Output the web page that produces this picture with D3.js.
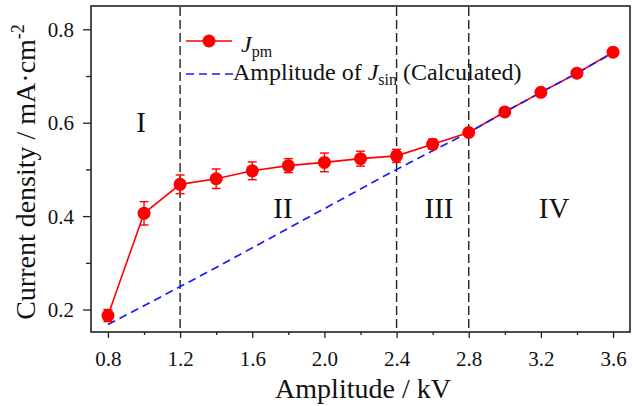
<!DOCTYPE html>
<html>
<head>
<meta charset="utf-8">
<script src="https://cdn.jsdelivr.net/npm/d3@7"></script>
<style>
  body { margin: 0; background: #fff; }
  svg text { font-family: "Liberation Serif", "Times New Roman", serif; fill: #111; }
</style>
</head>
<body>
<div id="chart"></div>
<script>
// data
var amplitude = [0.8, 1.0, 1.2, 1.4, 1.6, 1.8, 2.0, 2.2, 2.4, 2.6, 2.8, 3.0, 3.2, 3.4, 3.6];
var jpm = [0.187, 0.406, 0.468, 0.480, 0.497, 0.508, 0.515, 0.523, 0.529, 0.554, 0.579, 0.623, 0.665, 0.706, 0.751];
var jpmErr = [0.013, 0.025, 0.02, 0.021, 0.019, 0.015, 0.02, 0.016, 0.014, 0.011, 0.005, 0.004, 0.004, 0.004, 0.004];
var jsin = [0.168, 0.208, 0.249, 0.290, 0.332, 0.374, 0.416, 0.458, 0.500, 0.540, 0.579, 0.623, 0.665, 0.706, 0.750];
var xTicks = [0.8, 1.2, 1.6, 2.0, 2.4, 2.8, 3.2, 3.6];
var xMinor = [1.0, 1.4, 1.8, 2.2, 2.6, 3.0, 3.4];
var yTicks = [0.2, 0.4, 0.6, 0.8];
var yMinor = [0.3, 0.5, 0.7];
var dividers = [1.2, 2.4, 2.8];
var regionLabels = ["I", "II", "III", "IV"];
var regionX = [0.983, 1.77, 2.635, 3.273];
var regionY = [0.58, 0.396, 0.396, 0.396];

var FONT = "'Liberation Serif', 'Times New Roman', serif";

var width = 632, height = 406;
var margin = {top: 6, right: 2, bottom: 74, left: 91};
var chartWidth = width - margin.left - margin.right;
var chartHeight = height - margin.top - margin.bottom;

var svg = d3.select("#chart").append("svg")
    .attr("width", width)
    .attr("height", height);

var chartGroup = svg.append("g")
    .attr("transform", `translate(${margin.left}, ${margin.top})`);

var xScale = d3.scaleLinear().domain([0.706, 3.694]).range([0, chartWidth]);
var yScale = d3.scaleLinear().domain([0.1518, 0.8499]).range([chartHeight, 0]);

// axes, ticks pointing out
var xAxis = d3.axisBottom(xScale).tickValues(xTicks).tickFormat(d3.format(".1f")).tickSize(6);
var xAxisMinor = d3.axisBottom(xScale).tickValues(xMinor).tickFormat("").tickSize(3);
var yAxis = d3.axisLeft(yScale).tickValues(yTicks).tickFormat(d3.format(".1f")).tickSize(8).tickPadding(9);
var yAxisMinor = d3.axisLeft(yScale).tickValues(yMinor).tickFormat("").tickSize(5);

[[xAxis, true], [xAxisMinor, true], [yAxis, false], [yAxisMinor, false]].forEach(function (a) {
    var g = chartGroup.append("g")
        .attr("transform", a[1] ? `translate(0, ${chartHeight})` : null)
        .call(a[0]);
    g.attr("font-family", FONT).attr("font-size", 21);
    g.select(".domain").remove();
    g.selectAll("line").attr("stroke", "#222").attr("stroke-width", 1.3);
    g.selectAll("text").attr("fill", "#111");
    if (a[1]) {
        g.selectAll("text").attr("y", 34).attr("dy", 0);
    } else {
        g.selectAll("text").attr("dy", "0.34em");
    }
});

// frame
chartGroup.append("rect")
    .attr("width", chartWidth)
    .attr("height", chartHeight)
    .attr("fill", "none")
    .attr("stroke", "#222")
    .attr("stroke-width", 1.6);

// vertical dividers
chartGroup.selectAll(".divider")
    .data(dividers)
    .enter()
    .append("line")
    .attr("x1", d => xScale(d))
    .attr("x2", d => xScale(d))
    .attr("y1", 1)
    .attr("y2", chartHeight)
    .attr("stroke", "#222")
    .attr("stroke-width", 1.4)
    .attr("stroke-dasharray", "9,4");

// region labels
chartGroup.selectAll(".region")
    .data(regionLabels)
    .enter()
    .append("text")
    .attr("x", (d, i) => xScale(regionX[i]))
    .attr("y", (d, i) => yScale(regionY[i]))
    .attr("text-anchor", "middle")
    .attr("font-family", FONT)
    .attr("font-size", 29)
    .text(d => d);

var pts = amplitude.map((a, i) => ({x: a, y: jpm[i], e: jpmErr[i], s: jsin[i]}));

// measured line
chartGroup.append("path")
    .datum(pts)
    .attr("fill", "none")
    .attr("stroke", "#ff0000")
    .attr("stroke-width", 1.6)
    .attr("d", d3.line().x(d => xScale(d.x)).y(d => yScale(d.y)));

// calculated line
chartGroup.append("path")
    .datum(pts)
    .attr("fill", "none")
    .attr("stroke", "#1a1aff")
    .attr("stroke-width", 1.7)
    .attr("stroke-dasharray", "8,5")
    .attr("d", d3.line().x(d => xScale(d.x)).y(d => yScale(d.s)));

// error bars
var err = chartGroup.selectAll(".err")
    .data(pts)
    .enter()
    .append("g")
    .attr("stroke", "#ff0000")
    .attr("stroke-width", 1.4);
err.append("line")
    .attr("x1", d => xScale(d.x)).attr("x2", d => xScale(d.x))
    .attr("y1", d => yScale(d.y - d.e)).attr("y2", d => yScale(d.y + d.e));
err.append("line")
    .attr("x1", d => xScale(d.x) - 4.5).attr("x2", d => xScale(d.x) + 4.5)
    .attr("y1", d => yScale(d.y - d.e)).attr("y2", d => yScale(d.y - d.e));
err.append("line")
    .attr("x1", d => xScale(d.x) - 4.5).attr("x2", d => xScale(d.x) + 4.5)
    .attr("y1", d => yScale(d.y + d.e)).attr("y2", d => yScale(d.y + d.e));

chartGroup.selectAll("circle")
    .data(pts)
    .enter()
    .append("circle")
    .attr("cx", d => xScale(d.x))
    .attr("cy", d => yScale(d.y))
    .attr("r", 6.5)
    .attr("fill", "#ff0000");

// legend
var legend = svg.append("g").attr("font-family", FONT);
legend.append("line")
    .attr("x1", 186).attr("x2", 232).attr("y1", 41).attr("y2", 41)
    .attr("stroke", "#ff0000").attr("stroke-width", 1.6);
legend.append("circle")
    .attr("cx", 209).attr("cy", 41).attr("r", 6.5).attr("fill", "#ff0000");
var t1 = legend.append("text").attr("x", 241).attr("y", 52).attr("font-size", 24);
t1.append("tspan").attr("font-style", "italic").text("J");
t1.append("tspan").attr("dy", 5).attr("font-size", 16).text("pm");

legend.append("line")
    .attr("x1", 186).attr("x2", 233).attr("y1", 74).attr("y2", 74)
    .attr("stroke", "#1a1aff").attr("stroke-width", 1.7)
    .attr("stroke-dasharray", "8,5");
var t2 = legend.append("text").attr("x", 233).attr("y", 80).attr("font-size", 24);
t2.append("tspan").text("Amplitude of ");
t2.append("tspan").attr("font-style", "italic").text("J");
t2.append("tspan").attr("dy", 5).attr("font-size", 16).text("sin");
t2.append("tspan").attr("dy", -5).text(" (Calculated)");

// axis titles
svg.append("text")
    .attr("x", 363)
    .attr("y", 398)
    .attr("text-anchor", "middle")
    .attr("font-family", FONT)
    .attr("font-size", 28)
    .text("Amplitude / kV");

var yt = svg.append("text")
    .attr("transform", "rotate(-90)")
    .attr("x", -172)
    .attr("y", 35)
    .attr("text-anchor", "middle")
    .attr("font-family", FONT)
    .attr("font-size", 28);
yt.append("tspan").text("Current density / mA\u00b7cm");
yt.append("tspan").attr("dy", -11).attr("font-size", 18).text("-2");
</script>
</body>
</html>
